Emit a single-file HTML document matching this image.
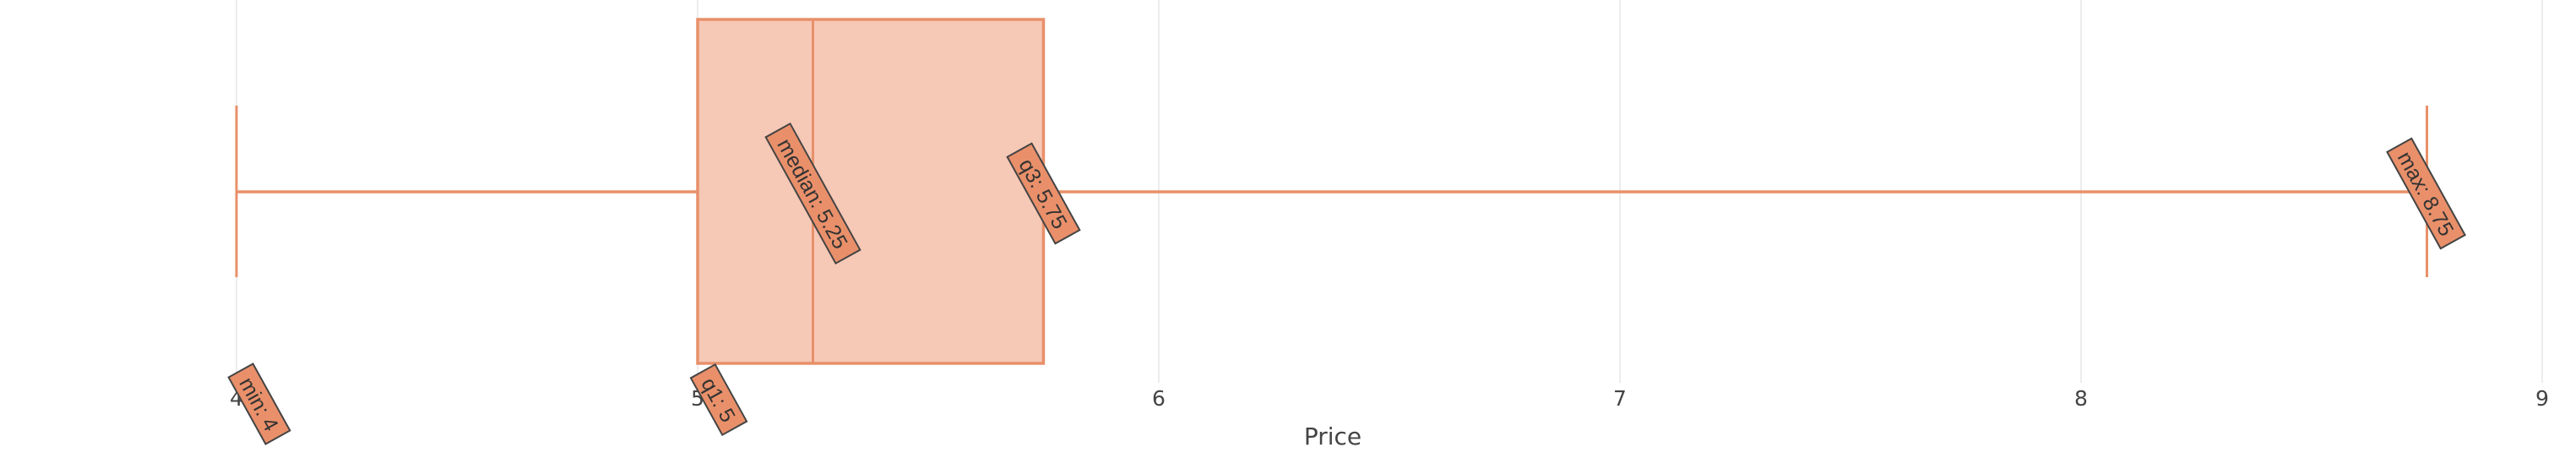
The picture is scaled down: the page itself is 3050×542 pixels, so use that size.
<!DOCTYPE html>
<html><head><meta charset="utf-8"><style>
html,body{margin:0;padding:0;background:#fff;}
svg{display:block;font-family:"DejaVu Sans","Liberation Sans",sans-serif;}
</style></head><body>
<svg id="chart" width="3050" height="542" viewBox="0 0 3050 542" xmlns="http://www.w3.org/2000/svg"></svg>
<script>
const ticks = [4, 5, 6, 7, 8, 9];
const statNames = ["min", "q1", "median", "q3", "max"];
const statValues = [4, 5, 5.25, 5.75, 8.75];
const axisTitle = "Price";

const NS = "http://www.w3.org/2000/svg";
const svg = document.getElementById("chart");
const x = v => 280 + (v - 4) * 546;
const yMid = 227;
function el(tag, attrs, parent) {
  const e = document.createElementNS(NS, tag);
  for (const k in attrs) e.setAttribute(k, attrs[k]);
  (parent || svg).appendChild(e);
  return e;
}
const stroke = "#e8906a";
ticks.forEach(t => {
  const g = el("line", {x1: x(t), x2: x(t), y1: 0, y2: 453, stroke: "#e6e6e6", "stroke-width": 1.5});
  
  
  const tl = el("text", {x: x(t), y: 480, "text-anchor": "middle", "font-size": 25, fill: "#444"});
  tl.textContent = t;
  
  
});
const title = el("text", {x: 1578, y: 526, "text-anchor": "middle", "font-size": 28, fill: "#444"});
title.textContent = axisTitle;



const [mn, q1, med, q3, mx] = statValues;
const box = el("rect", {x: x(q1), y: 23, width: x(q3) - x(q1), height: 407, fill: "#f6c8b6", stroke: stroke, "stroke-width": 3.5});


const medL = el("line", {x1: x(med), x2: x(med), y1: 23, y2: 430, stroke: stroke, "stroke-width": 3});


const w1 = el("line", {x1: x(mn), x2: x(q1), y1: yMid, y2: yMid, stroke: stroke, "stroke-width": 3.5});


const w2 = el("line", {x1: x(q3), x2: x(mx), y1: yMid, y2: yMid, stroke: stroke, "stroke-width": 3.5});


[mn, mx].forEach((v, i) => {
  const c = el("line", {x1: x(v), x2: x(v), y1: 125, y2: 328, stroke: stroke, "stroke-width": 3});
  
  
});

const offsets = {min: [27, 478], q1: [25, 473], median: [0, 229], q3: [0, 229], max: [-1, 229]};
statNames.forEach((n, i) => {
  const v = statValues[i];
  const cx = x(v) + offsets[n][0], cy = offsets[n][1];
  const g = el("g", {transform: `translate(${cx},${cy}) rotate(61)`});
  
  
  const txt = n + ": " + v;
  const w = txt.length * 13.4 + 10, h = 33;
  el("rect", {x: -w / 2, y: -h / 2, width: w, height: h, fill: "#e9906a", stroke: "#444", "stroke-width": 2}, g);
  const t = el("text", {x: 0, y: 9, "text-anchor": "middle", "font-size": 25, fill: "#333", "font-family": "Liberation Sans, sans-serif"}, g);
  t.textContent = txt;
});
</script>
</body></html>
